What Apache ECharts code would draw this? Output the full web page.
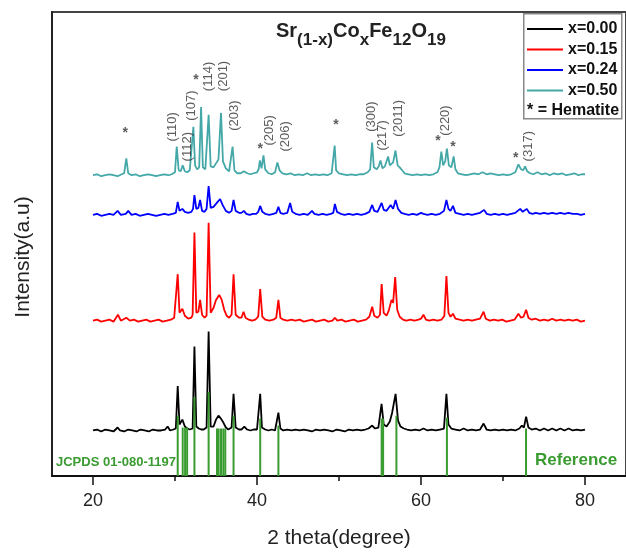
<!DOCTYPE html>
<html><head><meta charset="utf-8">
<script src="https://cdn.jsdelivr.net/npm/echarts@6/dist/echarts.min.js"></script>
<style>html,body{margin:0;padding:0;background:#fff}#c{width:626px;height:554px}</style>
</head><body><div id="c"></div>
<script>
// ---- data (2theta in degrees, intensity in arbitrary offset units) ----
const seriesNames = ['x=0.00','x=0.15','x=0.24','x=0.50'];
const seriesColors = ['#000000','#ff0000','#0000ff','#45a8a8'];

const x000 = [[20,46],[20.5,47],[21,45],[21.5,47],[22,46],[22.5,45],[23.0,49],[23.3,46],[23.8,45],[24.3,47],[24.8,46],[25.3,45],[25.8,47],[26.3,46],[26.8,45],[27.3,47],[27.8,46],[28.3,46],[28.8,47],[29.1,50],[29.4,46],[29.8,47],
[30.1,48],[30.33,91],[30.55,52],[30.9,57],[31.2,50],[31.5,48],[31.8,47],[32.15,48],[32.37,131],[32.6,50],[32.9,48],[33.2,47],[33.5,47],[33.85,49],[34.1,146],[34.35,50],[34.7,50],[35.0,57],[35.3,61],[35.6,58],[35.9,54],[36.2,49],[36.5,47],[36.9,49],[37.14,83],[37.4,49],[37.8,47],[38.1,47],[38.45,50],[38.8,47],[39.2,46],[39.6,47],[40.0,47],[40.2,48],[40.39,83],[40.6,49],[41.0,47],[41.4,46],[41.8,47],[42.2,46],[42.4,48],[42.61,64],[42.85,48],[43.2,46],[43.7,47],[44.2,46],[44.7,47],[45.2,46],[45.7,47],[46.2,46],[46.7,45],[47.2,47],[47.7,46],[48.2,47],[48.7,46],[49.2,45],[49.7,47],[50.2,46],[50.7,45],[51.2,47],[51.7,46],[52.2,47],[52.7,46],[53.2,47],[53.6,48],[54.05,51],[54.4,48],[54.8,49],[55.19,73],[55.45,52],[55.8,50],[56.2,55],[56.48,64],[56.9,83],[57.2,56],[57.5,50],[57.9,48],[58.3,47],[58.8,46],[59.3,47],[59.8,46],[60.3,48],[60.8,46],[61.3,47],[61.8,46],[62.3,47],[62.8,48],[63.1,83],[63.35,52],[63.7,48],[64.2,47],[64.7,46],[65.2,48],[65.7,46],[66.2,47],[66.7,46],[67.2,47],[67.63,53],[68.0,47],[68.5,46],[69.0,47],[69.5,46],[70.0,47],[70.5,46],[71.0,47],[71.5,46],[72.0,48],[72.3,51],[72.55,49],[72.82,60],[73.1,49],[73.5,47],[74.0,48],[74.5,46],[75.0,48],[75.5,46],[76.0,48],[76.5,46],[77.0,48],[77.5,46],[78.0,48],[78.5,46],[79.0,47],[79.5,46],[80.0,47]];

const x015 = [[20,157],[20.5,158],[21,156],[21.5,157],[22,158],[22.5,156],[23.04,163],[23.4,157],[24.06,160],[24.5,157],[25,158],[25.5,156],[26,157],[26.5,158],[27,156],[27.5,157],[28,158],[28.5,156],[29,157],[29.5,158],[29.9,160],
[30.1,160],[30.33,204],[30.55,165],[30.9,169],[31.2,162],[31.6,159],[32.0,160],[32.15,163],[32.37,246],[32.6,165],[32.85,166],[33.06,178],[33.3,163],[33.6,160],[33.85,162],[34.1,256],[34.35,165],[34.7,170],[35.0,178],[35.4,183],[35.7,178],[36.0,168],[36.3,162],[36.6,160],[36.9,163],[37.14,204],[37.4,163],[37.8,160],[38.1,160],[38.36,166],[38.6,160],[39.0,158],[39.4,157],[39.8,158],[40.15,161],[40.39,189],[40.65,161],[41.0,158],[41.5,157],[42.0,158],[42.35,160],[42.61,178],[42.85,160],[43.2,158],[43.7,157],[44.2,158],[44.7,157],[45.2,158],[45.7,156],[46.2,157],[46.7,158],[47.2,156],[47.7,157],[48.2,158],[48.7,156],[49.2,157],[49.5,160],[49.8,157],[50.3,158],[50.8,156],[51.3,157],[51.8,158],[52.3,156],[52.8,157],[53.3,158],[53.7,161],[54.05,171],[54.3,162],[54.7,160],[55.0,163],[55.2,194],[55.45,165],[55.8,162],[56.1,168],[56.4,178],[56.6,175],[56.85,201],[57.1,168],[57.4,161],[57.8,158],[58.2,157],[58.7,158],[59.2,157],[59.7,158],[60.0,159],[60.3,163],[60.6,158],[61.0,157],[61.5,158],[62.0,157],[62.5,158],[62.85,162],[63.1,202],[63.35,165],[63.6,161],[63.9,164],[64.2,159],[64.7,158],[65.2,157],[65.7,158],[66.2,157],[66.7,158],[67.2,159],[67.63,166],[67.9,159],[68.4,157],[68.9,158],[69.4,157],[69.9,158],[70.4,156],[70.9,157],[71.4,158],[71.88,164],[72.2,160],[72.5,161],[72.82,168],[73.1,160],[73.5,158],[74.0,159],[74.5,157],[75.0,158],[75.5,157],[76.0,159],[76.5,157],[77.0,158],[77.5,157],[78.0,158],[78.5,157],[79.0,158],[79.5,156],[80.0,157]];

const x024 = [[20,264],[20.5,265],[21,263],[21.5,264],[22,265],[22.5,264],[23.0,268],[23.4,264],[24.0,265],[24.3,268],[24.7,264],[25.2,265],[25.7,263],[26.2,264],[26.7,265],[27.2,264],[27.7,263],[28.2,264],[28.7,265],[29.2,264],[29.7,265],[30.1,266],[30.33,277],[30.55,268],[30.9,270],[31.2,267],[31.6,266],[32.0,267],[32.2,270],[32.37,284],[32.6,270],[32.85,271],[33.06,279],[33.3,268],[33.6,267],[33.85,270],[34.1,293],[34.35,271],[34.7,272],[35.1,276],[35.5,280],[35.8,274],[36.2,268],[36.6,266],[36.9,268],[37.14,279],[37.4,268],[37.8,266],[38.1,266],[38.4,268],[38.7,265],[39.1,264],[39.5,265],[39.9,265],[40.15,267],[40.39,273],[40.65,267],[41.0,265],[41.5,264],[42.0,265],[42.35,266],[42.61,272],[42.85,266],[43.2,265],[43.7,266],[44.04,276],[44.3,267],[44.7,265],[45.2,264],[45.7,265],[46.2,264],[46.7,268],[47.0,265],[47.5,264],[48.0,265],[48.5,264],[49.0,265],[49.3,266],[49.5,275],[49.75,267],[50.2,265],[50.7,264],[51.2,265],[51.7,264],[52.2,265],[52.7,264],[53.2,265],[53.7,267],[54.05,274],[54.3,268],[54.7,267],[55.2,276],[55.45,269],[55.8,268],[56.3,274],[56.6,270],[56.9,279],[57.2,270],[57.6,266],[58.0,265],[58.5,264],[59.0,265],[59.5,264],[60.0,266],[60.3,265],[60.8,264],[61.3,265],[61.8,264],[62.3,265],[62.8,268],[63.1,279],[63.35,270],[63.6,268],[63.9,273],[64.2,266],[64.7,265],[65.2,264],[65.7,265],[66.2,264],[66.7,265],[67.2,266],[67.7,269],[68.0,265],[68.5,264],[69.0,265],[69.5,264],[70.0,265],[70.5,264],[71.0,265],[71.5,266],[72.1,270],[72.4,267],[72.9,270],[73.2,266],[73.6,265],[74.0,266],[74.5,265],[75.0,266],[75.5,265],[76.0,266],[76.5,265],[77.0,266],[77.5,265],[78.0,266],[78.5,265],[79.0,265],[79.5,264],[80.0,265]];

const x050 = [[20,304],[20.5,305],[21,303],[21.5,304],[22,305],[22.5,304],[23.0,303],[23.5,305],[23.8,306],[24.06,321],[24.3,306],[24.7,304],[25.2,305],[25.7,303],[26.2,304],[26.7,305],[27.2,304],[27.7,303],[28.2,304],[28.7,305],[29.2,304],[29.6,305],[30.0,307],[30.21,333],[30.45,309],[30.7,308],[30.94,314],[31.2,308],[31.5,307],[31.8,309],[32.0,310],[32.24,353],[32.45,314],[32.7,310],[32.95,312],[33.18,373],[33.4,312],[33.7,310],[33.9,312],[34.1,365],[34.35,313],[34.7,312],[35.0,316],[35.3,320],[35.61,367],[35.85,318],[36.2,311],[36.6,308],[36.8,309],[37.02,333],[37.25,309],[37.6,306],[38.0,306],[38.4,308],[38.8,306],[39.2,305],[39.6,306],[40.0,307],[40.2,310],[40.35,319],[40.55,311],[40.79,324],[41.0,310],[41.4,306],[41.8,305],[42.2,307],[42.49,317],[42.75,309],[43.1,306],[43.6,305],[44.1,306],[44.6,304],[45.1,305],[45.6,304],[46.1,306],[46.6,304],[47.1,305],[47.6,304],[48.1,305],[48.6,304],[49.1,306],[49.3,307],[49.47,334],[49.65,309],[50.0,306],[50.5,305],[51.0,304],[51.5,305],[52.0,304],[52.5,305],[53.0,305],[53.5,307],[53.8,310],[54.04,337],[54.25,312],[54.6,310],[54.85,313],[55.06,319],[55.3,311],[55.6,313],[55.99,323],[56.2,314],[56.6,317],[56.89,329],[57.15,314],[57.4,312],[57.7,309],[58.0,306],[58.5,305],[59.0,304],[59.5,305],[60.0,304],[60.5,305],[61.0,304],[61.5,305],[62.0,307],[62.25,312],[62.48,328],[62.7,314],[62.95,318],[63.16,331],[63.4,314],[63.7,312],[63.98,323],[64.2,310],[64.5,306],[65.0,305],[65.5,304],[66.0,305],[66.5,306],[67.0,305],[67.5,307],[68.0,305],[68.5,306],[69.0,305],[69.5,304],[70.0,305],[70.5,304],[71.0,305],[71.5,307],[71.88,315],[72.2,310],[72.45,309],[72.69,313],[72.95,308],[73.3,306],[73.7,305],[74.2,307],[74.7,305],[75.2,306],[75.7,304],[76.2,306],[76.7,305],[77.2,306],[77.7,304],[78.2,305],[78.7,306],[79.2,304],[79.6,305],[80.0,305]];

// JCPDS 01-080-1197 reference lines
const refPos = [30.33,30.94,31.23,31.48,32.37,34.10,35.12,35.32,35.61,35.89,36.13,37.14,40.39,42.61,55.2,55.38,57.0,63.16,72.81];
const refInt = [61,49,49,49,80,85,48,48,48,48,48,61,58,51,58,58,61,59,48];

// Miller-index labels (position of label start)
const hklNames = ['(110)','(112)','(107)','(114)','(201)','(203)','(205)','(206)','(300)','(217)','(2011)','(220)','(317)'];
const hklX = [29.73,31.55,32.04,34.07,35.89,37.23,41.48,43.51,53.92,55.26,57.29,62.97,73.09];
const hklY = [338,318,359,389,389,349,334,328,348,329,343,344,318];
// hematite markers
const hemX = [23.94,32.57,40.39,49.63,62.07,63.89,71.55];
const hemY = [350,403,333,358,341,335,324];

// x-axis ticks
const majorTicks = [20,40,60,80];
const minorTicks = [30,50,70];

const FONT = '"Liberation Sans", Arial, sans-serif';
const GREEN = '#3a9b30';
const chart = echarts.init(document.getElementById('c'), null, {renderer:'canvas'});

const lineData = [x000, x015, x024, x050];
const series = lineData.map((d,i)=>({
  name: seriesNames[i], type:'line', data:d, symbol:'none', showSymbol:false,
  lineStyle:{color:seriesColors[i], width:1.8}, itemStyle:{color:seriesColors[i]},
  z: 3 + i, animation:false
}));
series.push({
  name:'ref', type:'bar', xAxisIndex:0, barWidth:2,
  data: refPos.map((p,i)=>[p, refInt[i]]),
  itemStyle:{color:GREEN}, z:10, animation:false
});
series.push({
  name:'hkl', type:'scatter', symbolSize:1, itemStyle:{color:'transparent'},
  data: hklNames.map((n,i)=>({name:n, value:[hklX[i], hklY[i]]})),
  label:{show:true, formatter:'{b}', rotate:90, position:'inside', align:'left', verticalAlign:'middle',
    fontSize:13, color:'#333', fontFamily:FONT},
  z:12, animation:false, silent:true
});
series.push({
  name:'hem', type:'scatter', symbolSize:1, itemStyle:{color:'transparent'},
  data: hemX.map((x,i)=>({name:'*', value:[x, hemY[i]]})),
  label:{show:true, formatter:'*', position:'inside', align:'center', verticalAlign:'middle', offset:[0,3],
    fontSize:14, fontWeight:'bold', color:'#333', fontFamily:FONT},
  z:12, animation:false, silent:true
});

const option = {
  animation:false,
  backgroundColor:'#fff',
  grid:{left:52, top:12, width:576, height:469, show:true, borderColor:'#444', borderWidth:2, backgroundColor:'transparent'},
  legend:{
    data: seriesNames.map((n,i)=>({name:n, icon:'rect', itemStyle:{color:seriesColors[i]}})),
    orient:'vertical', left:522, top:16, itemWidth:36, itemHeight:2, itemGap:4.5,
    textStyle:{fontSize:16, fontWeight:'bold', color:'#111', fontFamily:FONT},
    selectedMode:false
  },
  xAxis:[{
    type:'value', min:15, max:85,
    axisLine:{show:true, lineStyle:{color:'#111', width:2}},
    axisTick:{show:true, customValues:majorTicks, length:9, lineStyle:{color:'#111', width:1.5}},
    axisLabel:{show:true, customValues:majorTicks, fontSize:18, color:'#222', margin:16, fontFamily:FONT},
    splitLine:{show:false},
    name:'2 theta(degree)', nameLocation:'middle', nameGap:52,
    nameTextStyle:{fontSize:21, color:'#222', fontFamily:FONT}
  },{
    type:'value', min:15, max:85, position:'bottom',
    axisLine:{show:false},
    axisTick:{show:true, customValues:minorTicks, length:5, lineStyle:{color:'#111', width:1.5}},
    axisLabel:{show:false}, splitLine:{show:false}
  }],
  yAxis:{
    type:'value', min:0, max:469,
    axisLine:{show:true, lineStyle:{color:'#222', width:2}},
    axisTick:{show:false}, axisLabel:{show:false}, splitLine:{show:false},
    name:'Intensity(a.u)', nameLocation:'middle', nameGap:18,
    nameTextStyle:{fontSize:21, color:'#222', fontFamily:FONT, padding:[0,26,0,0]}
  },
  graphic:[
    {type:'rect', left:523, top:13, shape:{width:98, height:105}, style:{fill:'#fff', stroke:'#888', lineWidth:1.5}, z:-1},
    {type:'text', left:527, top:103, style:{text:'* = Hematite', font:'bold 16px '+FONT, fill:'#111'}},
    {type:'text', left:56, top:456, style:{text:'JCPDS 01-080-1197', font:'bold 13px '+FONT, fill:GREEN}},
    {type:'text', left:535, top:452, style:{text:'Reference', font:'bold 17px '+FONT, fill:GREEN}},
    {type:'text', left:276, top:21, style:{
      text:'{a|Sr}{s|(1-x)}{a|Co}{s|x}{a|Fe}{s|12}{a|O}{s|19}',
      rich:{
        a:{fontSize:20, fontWeight:'bold', fontFamily:FONT, fill:'#222', color:'#222', lineHeight:22, verticalAlign:'top'},
        s:{fontSize:17, fontWeight:'bold', fontFamily:FONT, fill:'#222', color:'#222', lineHeight:38, verticalAlign:'middle'}
      }
    }}
  ],
  series: series
};
chart.setOption(option);
</script>
</body></html>
